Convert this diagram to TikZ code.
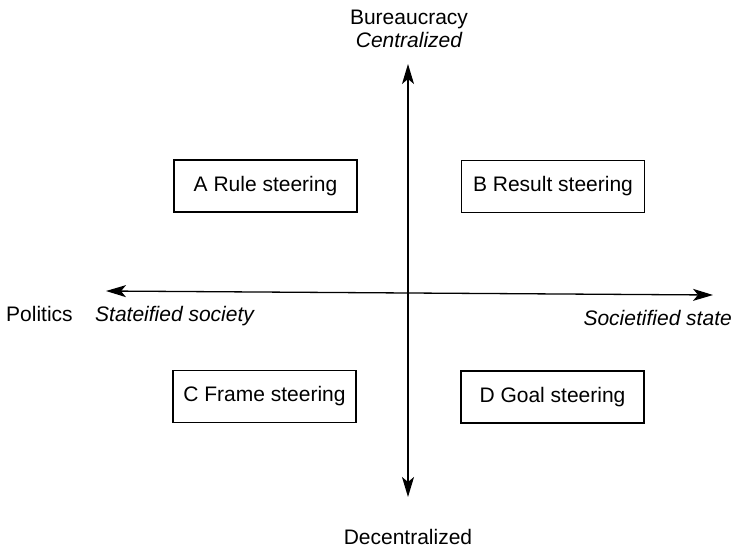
\documentclass[tikz,border=0pt]{standalone}
\usepackage{fontspec}
\setmainfont{Liberation Sans}
\usetikzlibrary{arrows.meta}

\tikzset{
  steerbox/.style={draw,line width=1.1pt,minimum width=183pt,minimum height=52pt,inner sep=0pt},
  axis/.style={line width=1.3pt,{Stealth[length=20pt,width=12pt,inset=5pt]}-{Stealth[length=20pt,width=12pt,inset=5pt]}},
  axislabel/.style={inner sep=0pt,anchor=base}
}

\begin{document}
\begin{tikzpicture}[x=1pt,y=-1pt,font=\fontsize{21}{25}\selectfont]
    \useasboundingbox (0,0) rectangle (734,552);

    % Axes end points
    \coordinate (top) at (408,64);
    \coordinate (bottom) at (408,497);
    \coordinate (left) at (106,291);
    \coordinate (right) at (713,295);

    \draw[axis] (bottom) -- (top);
    \draw[axis] (left) -- (right);

    % Quadrants
    \node[steerbox] (rule) at (265.5,186) {A Rule steering};
    \node[steerbox] (result) at (553,186.5) {B Result steering};
    \node[steerbox] (frame) at (264.5,396.5) {C Frame steering};
    \node[steerbox] (goal) at (552.5,397) {D Goal steering};

    % Axis labels
    \node[axislabel] (bureau) at (409,24) {Bureaucracy};
    \node[axislabel] (central) at (409,47) {\itshape Centralized};
    \node[axislabel] (decentral) at (408,544) {Decentralized};
    \node[axislabel,anchor=base west] (politics) at (6,321) {Politics};
    \node[axislabel,anchor=base west] (stateified) at (95,321) {\itshape Stateified society};
    \node[axislabel,anchor=base east] (societified) at (732,325) {\itshape Societified state};
\end{tikzpicture}
\end{document}
